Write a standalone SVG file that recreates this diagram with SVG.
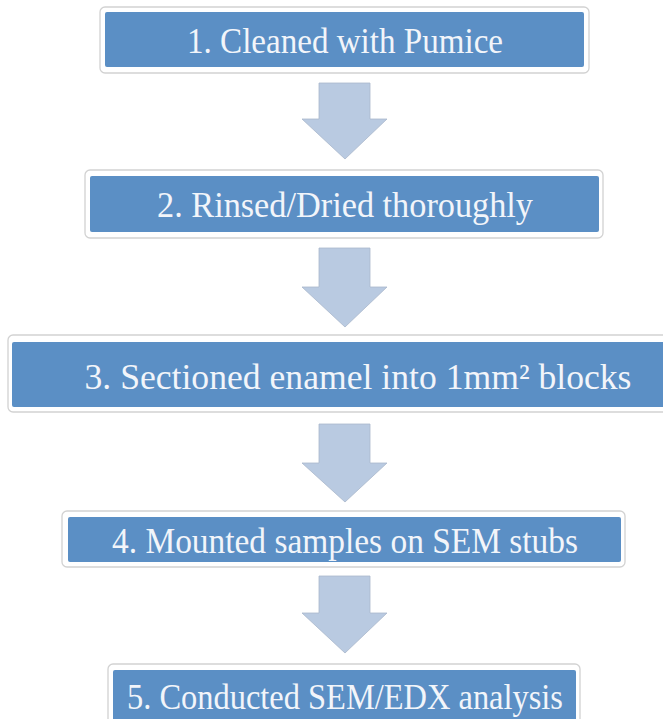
<svg xmlns="http://www.w3.org/2000/svg" width="663" height="719" viewBox="0 0 663 719">
  <style>
    .frame { fill: #ffffff; stroke: #d2d2d2; stroke-width: 1.3; }
    .box { fill: #5b8fc5; }
    .label { font-family: "Liberation Serif", "DejaVu Serif", serif; font-size: 36px; fill: #f2f5fa; text-anchor: middle; }
    .arrow { fill: #b9cae1; stroke: #a9b8cc; stroke-width: 0.8; }
  </style>
  <rect width="663" height="719" fill="#ffffff"/>

  <g id="connectors">
    <polygon class="arrow" points="319,83 370,83 370,119 387,119 345,159 302,119 319,119"/>
    <polygon class="arrow" points="319,248 370,248 370,287 387,287 345,327 302,287 319,287"/>
    <polygon class="arrow" points="319,424 370,424 370,463 387,463 345,502 302,463 319,463"/>
    <polygon class="arrow" points="319,576 370,576 370,613 387,613 345,653 302,613 319,613"/>
  </g>

  <g id="step1">
    <rect class="frame" x="100" y="7" width="489" height="66" rx="5"/>
    <rect class="box" x="105" y="12" width="479" height="55" rx="2"/>
    <text class="label" x="345" y="53" textLength="316" lengthAdjust="spacingAndGlyphs">1. Cleaned with Pumice</text>
  </g>

  <g id="step2">
    <rect class="frame" x="85" y="170" width="518" height="68" rx="5"/>
    <rect class="box" x="90" y="176" width="509" height="56" rx="2"/>
    <text class="label" x="345" y="217" textLength="376" lengthAdjust="spacingAndGlyphs">2. Rinsed/Dried thoroughly</text>
  </g>

  <g id="step3">
    <rect class="frame" x="8" y="335" width="670" height="77" rx="5"/>
    <rect class="box" x="12" y="342" width="670" height="65" rx="2"/>
    <text class="label" x="358" y="389" font-size="38" textLength="547" lengthAdjust="spacingAndGlyphs">3. Sectioned enamel into 1mm² blocks</text>
  </g>

  <g id="step4">
    <rect class="frame" x="62" y="511" width="563" height="56" rx="5"/>
    <rect class="box" x="68" y="517" width="553" height="45" rx="2"/>
    <text class="label" x="345" y="553" font-size="37" textLength="466" lengthAdjust="spacingAndGlyphs">4. Mounted samples on SEM stubs</text>
  </g>

  <g id="step5">
    <rect class="frame" x="108" y="664" width="472" height="70" rx="5"/>
    <rect class="box" x="113" y="670" width="463" height="60" rx="2"/>
    <text class="label" x="345" y="709" font-size="37" textLength="436" lengthAdjust="spacingAndGlyphs">5. Conducted SEM/EDX analysis</text>
  </g>
</svg>
